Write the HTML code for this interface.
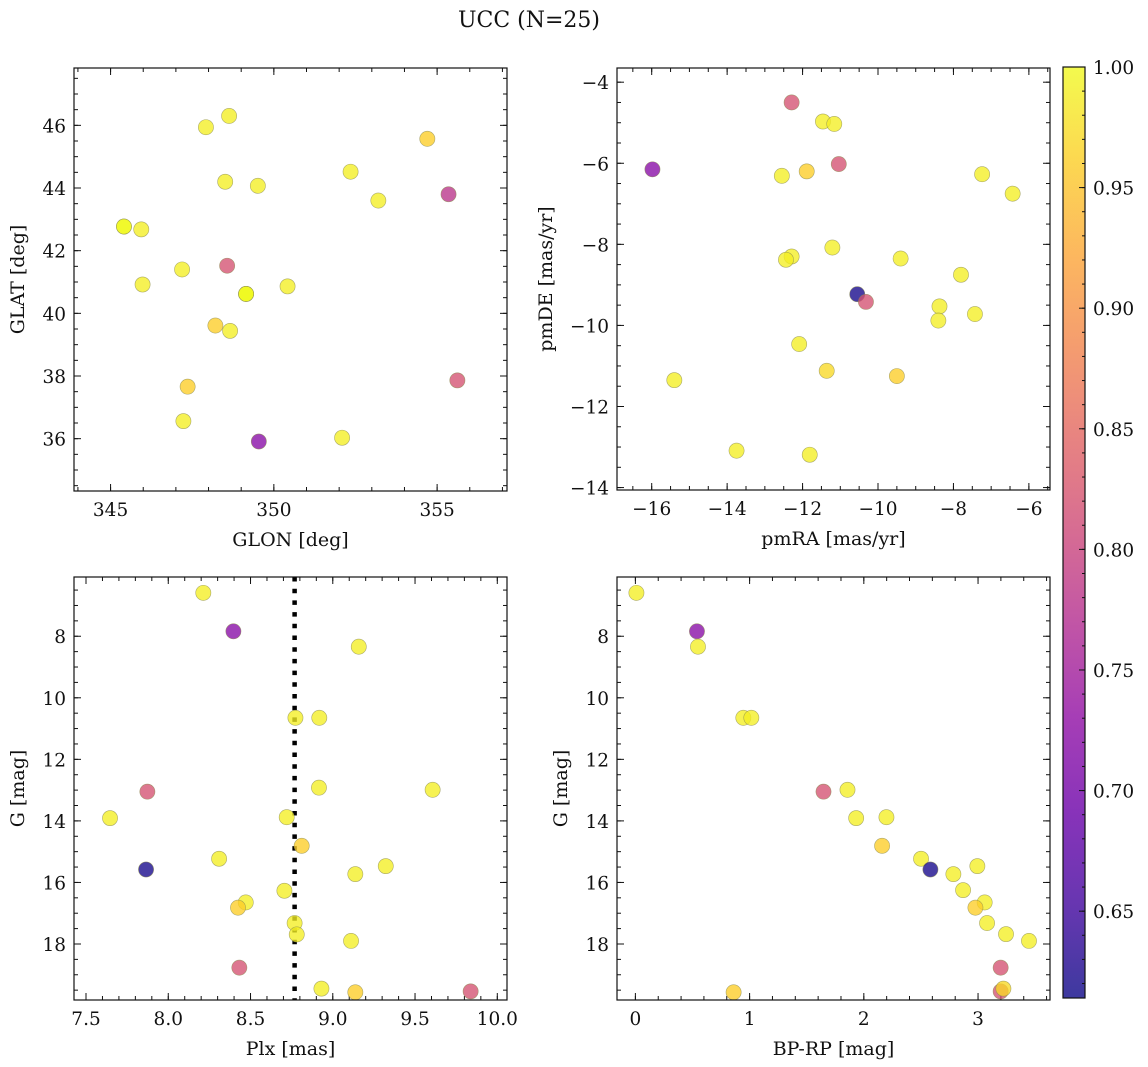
<!DOCTYPE html>
<html><head><meta charset="utf-8">
<style>
html,body{margin:0;padding:0;background:#fff;}
svg{display:block;font-family:"DejaVu Serif","Liberation Serif",serif;}
</style></head>
<body>
<svg id="fig" width="1148" height="1067" viewBox="0 0 1148 1067" xmlns="http://www.w3.org/2000/svg">
<text x="529" y="27" text-anchor="middle" font-size="22" fill="#111">UCC (N=25)</text>
</svg>
<script>
// Panel 1: GLON vs GLAT
const glonX = [345.41,345.41,345.94,347.92,348.63,354.70,352.35,348.51,349.51,353.20,355.35,347.19,348.57,345.98,349.15,349.15,350.42,348.21,348.66,347.36,355.62,347.23,352.09,349.54,349.15];
const glatY = [42.77,42.77,42.68,45.94,46.30,45.57,44.52,44.20,44.07,43.60,43.80,41.40,41.52,40.92,40.62,40.62,40.86,39.61,39.44,37.66,37.86,36.56,36.03,35.91,40.62];
const glatC = [1.0,1.0,0.99,0.99,0.99,0.96,0.99,0.99,0.99,0.99,0.78,0.99,0.82,0.99,1.0,1.0,0.99,0.96,0.99,0.96,0.82,0.99,0.99,0.72,1.0];
// Panel 2: pmRA vs pmDE
const pmraX = [-12.29,-11.46,-11.16,-15.98,-12.55,-11.89,-11.04,-7.24,-6.43,-11.21,-12.29,-12.44,-9.40,-7.80,-10.55,-10.32,-8.37,-8.40,-7.43,-12.09,-11.36,-9.50,-15.40,-13.75,-11.81];
const pmdeY = [-4.50,-4.97,-5.03,-6.15,-6.31,-6.20,-6.02,-6.27,-6.75,-8.08,-8.30,-8.38,-8.35,-8.75,-9.23,-9.42,-9.53,-9.88,-9.72,-10.46,-11.12,-11.25,-11.35,-13.09,-13.19];
const pmC = [0.82,0.99,0.99,0.72,0.99,0.96,0.82,0.99,0.99,0.99,0.99,0.99,0.99,0.99,0.62,0.82,0.99,0.99,0.99,0.99,0.97,0.96,0.99,0.99,0.99];
// Panel 3: Plx vs G
const plxX = [8.213,8.396,9.158,8.773,8.918,8.916,9.607,7.873,7.646,8.720,8.811,8.309,7.865,9.322,9.137,8.706,8.471,8.424,8.768,8.781,9.111,8.432,8.931,9.137,9.838];
const gmagY = [6.59,7.84,8.34,10.65,10.65,12.92,12.99,13.05,13.91,13.88,14.81,15.23,15.58,15.47,15.73,16.27,16.65,16.82,17.32,17.69,17.90,18.77,19.45,19.57,19.54];
const plxC = [0.99,0.72,0.99,0.99,0.99,0.99,0.99,0.82,0.99,0.99,0.96,0.99,0.62,0.99,0.99,0.99,0.99,0.96,0.99,0.99,0.99,0.82,0.99,0.96,0.82];
const plxLine = 8.768;
// Panel 4: BP-RP vs G
const bprpX = [0.009,0.539,0.548,0.945,1.015,1.857,2.994,1.647,1.933,2.198,2.160,2.501,2.583,2.784,2.869,3.058,2.977,3.079,3.245,3.446,3.198,0.860,3.198,3.222];
const cmdY = [6.59,7.84,8.34,10.65,10.65,12.99,15.47,13.05,13.91,13.88,14.81,15.23,15.58,15.73,16.25,16.65,16.82,17.32,17.68,17.90,18.77,19.57,19.54,19.45];
const cmdC = [0.99,0.72,0.99,0.99,0.99,0.99,0.99,0.82,0.99,0.99,0.96,0.99,0.62,0.99,0.99,0.99,0.96,0.99,0.99,0.99,0.82,0.96,0.82,0.97];
// Colorbar
const cbTicks = [0.65,0.70,0.75,0.80,0.85,0.90,0.95,1.00];
const cbMin = 0.614, cbMax = 1.0;

const NS = "http://www.w3.org/2000/svg";
const svg = document.getElementById('fig');
function mk(tag, attrs, parent){const e=document.createElementNS(NS,tag);for(const k in attrs)e.setAttribute(k,attrs[k]);(parent||svg).appendChild(e);return e;}

const plasma = ["#0d0887","#41049d","#6a00a8","#8f0da4","#b12a90","#cc4778","#e16462","#f2844b","#fca636","#fcce25","#f0f921"];
function hex(h){return [parseInt(h.substr(1,2),16),parseInt(h.substr(3,2),16),parseInt(h.substr(5,2),16)];}
function cmap(t){t=Math.max(0,Math.min(1,t));const f=t*10,i=Math.min(9,Math.floor(f)),u=f-i;const a=hex(plasma[i]),b=hex(plasma[i+1]);return "rgb("+a.map((v,k)=>Math.round(v+(b[k]-v)*u)).join(",")+")";}
function col(v){return cmap((v-cbMin)/(cbMax-cbMin));}

function fmt(v,d){const s=v.toFixed(d);return v<0?"\u2212"+s.slice(1):s;}

function panel(o){
  const g=mk('g',{});
  
  
  const sx=v=>o.x0+(v-o.xmin)/(o.xmax-o.xmin)*(o.x1-o.x0);
  const sy=v=>o.inv? o.y0+(v-o.ymin)/(o.ymax-o.ymin)*(o.y1-o.y0) : o.y1-(v-o.ymin)/(o.ymax-o.ymin)*(o.y1-o.y0);
  const tg=mk('g',{stroke:'#111','stroke-width':1},g);
  function ticksX(step,len,labels,dec){
    const s=Math.ceil(o.xmin/step-1e-6);
    for(let k=s;k*step<=o.xmax+1e-9;k++){const v=k*step,x=sx(v);
      mk('line',{x1:x,y1:o.y1,x2:x,y2:o.y1-len},tg);mk('line',{x1:x,y1:o.y0,x2:x,y2:o.y0+len},tg);
      if(labels){const t=mk('text',{x:x,y:o.y1+25,'text-anchor':'middle','font-size':18.5,fill:'#111',stroke:'none'},g);t.textContent=fmt(v,dec);
        
        }
    }
  }
  function ticksY(step,len,labels,dec){
    const s=Math.ceil(o.ymin/step-1e-6);
    for(let k=s;k*step<=o.ymax+1e-9;k++){const v=k*step,y=sy(v);
      mk('line',{x1:o.x0,y1:y,x2:o.x0+len,y2:y},tg);mk('line',{x1:o.x1,y1:y,x2:o.x1-len,y2:y},tg);
      if(labels){const t=mk('text',{x:o.x0-8,y:y+7,'text-anchor':'end','font-size':18.5,fill:'#111',stroke:'none'},g);t.textContent=fmt(v,dec);
        
        }
    }
  }
  ticksX(o.xminor,4,false);ticksX(o.xmajor,7,true,o.xdec);
  ticksY(o.yminor,4,false);ticksY(o.ymajor,7,true,0);
  if(o.vline!==undefined){const l=mk('line',{x1:sx(o.vline),y1:o.y0,x2:sx(o.vline),y2:o.y1,stroke:'#000','stroke-width':4.5,'stroke-dasharray':'4.5 7.2'},g);
    
    }
  const pg=mk('g',{},g);
  for(let i=0;i<o.xs.length;i++){
    const c=mk('circle',{cx:sx(o.xs[i]),cy:sy(o.ys[i]),r:7.6,fill:col(o.cs[i]),'fill-opacity':0.78,stroke:'#8a8a50','stroke-width':0.6,'stroke-opacity':0.7},pg);
    
    
  }
  const fr=mk('rect',{x:o.x0,y:o.y0,width:o.x1-o.x0,height:o.y1-o.y0,fill:'none',stroke:'#111','stroke-width':1.2},g);
  
  
  const xl=mk('text',{x:(o.x0+o.x1)/2,y:o.y1+55,'text-anchor':'middle','font-size':19,fill:'#111'},g);xl.textContent=o.xlabel;
  
  
  const yl=mk('text',{x:0,y:0,'text-anchor':'middle','font-size':19,fill:'#111',transform:`translate(${o.ylx},${(o.y0+o.y1)/2}) rotate(-90)`},g);yl.textContent=o.ylabel;
  
  
}

panel({name:'glon-glat-panel',x0:74,x1:507,y0:68,y1:491,xmin:343.88,xmax:357.14,ymin:34.33,ymax:47.83,xmajor:5,xminor:1,ymajor:2,yminor:0.5,xdec:0,xs:glonX,ys:glatY,cs:glatC,xlabel:'GLON [deg]',ylabel:'GLAT [deg]',ylx:24});
panel({name:'pm-panel',x0:617,x1:1050,y0:68,y1:490,xmin:-16.92,xmax:-5.44,ymin:-14.06,ymax:-3.65,xmajor:2,xminor:0.5,ymajor:2,yminor:0.5,xdec:0,xs:pmraX,ys:pmdeY,cs:pmC,xlabel:'pmRA [mas/yr]',ylabel:'pmDE [mas/yr]',ylx:552});
panel({name:'plx-g-panel',x0:74,x1:507,y0:577,y1:1000,xmin:7.427,xmax:10.059,ymin:6.075,ymax:19.82,inv:true,xmajor:0.5,xminor:0.1,ymajor:2,yminor:0.5,xdec:1,xs:plxX,ys:gmagY,cs:plxC,vline:plxLine,xlabel:'Plx [mas]',ylabel:'G [mag]',ylx:24});
panel({name:'cmd-panel',x0:617,x1:1050,y0:577,y1:1000,xmin:-0.161,xmax:3.63,ymin:6.075,ymax:19.82,inv:true,xmajor:1,xminor:0.2,ymajor:2,yminor:0.5,xdec:0,xs:bprpX,ys:cmdY,cs:cmdC,xlabel:'BP-RP [mag]',ylabel:'G [mag]',ylx:567});

const cb=mk('g',{});


const defs=mk('defs',{},cb);
const lg=mk('linearGradient',{id:'pg',x1:0,y1:1,x2:0,y2:0},defs);
for(let i=0;i<=20;i++){mk('stop',{offset:i/20,'stop-color':cmap(i/20),'stop-opacity':0.8},lg);}
const cbx0=1063,cbx1=1085,cby0=67,cby1=998;
mk('rect',{x:cbx0,y:cby0,width:cbx1-cbx0,height:cby1-cby0,fill:'url(#pg)',stroke:'#111','stroke-width':1.2},cb);
const cy=v=>cby1-(v-cbMin)/(cbMax-cbMin)*(cby1-cby0);
for(let v=0.62;v<=1.0001;v+=0.01){const y=cy(v);mk('line',{x1:cbx1,y1:y,x2:cbx1-3,y2:y,stroke:'#111','stroke-width':1},cb);}
for(const v of cbTicks){const y=cy(v);mk('line',{x1:cbx1,y1:y,x2:cbx1-6,y2:y,stroke:'#111','stroke-width':1},cb);
  const t=mk('text',{x:cbx1+8,y:y+7,'font-size':18.5,fill:'#111'},cb);t.textContent=v.toFixed(2);
  
  }
</script>
</body></html>
